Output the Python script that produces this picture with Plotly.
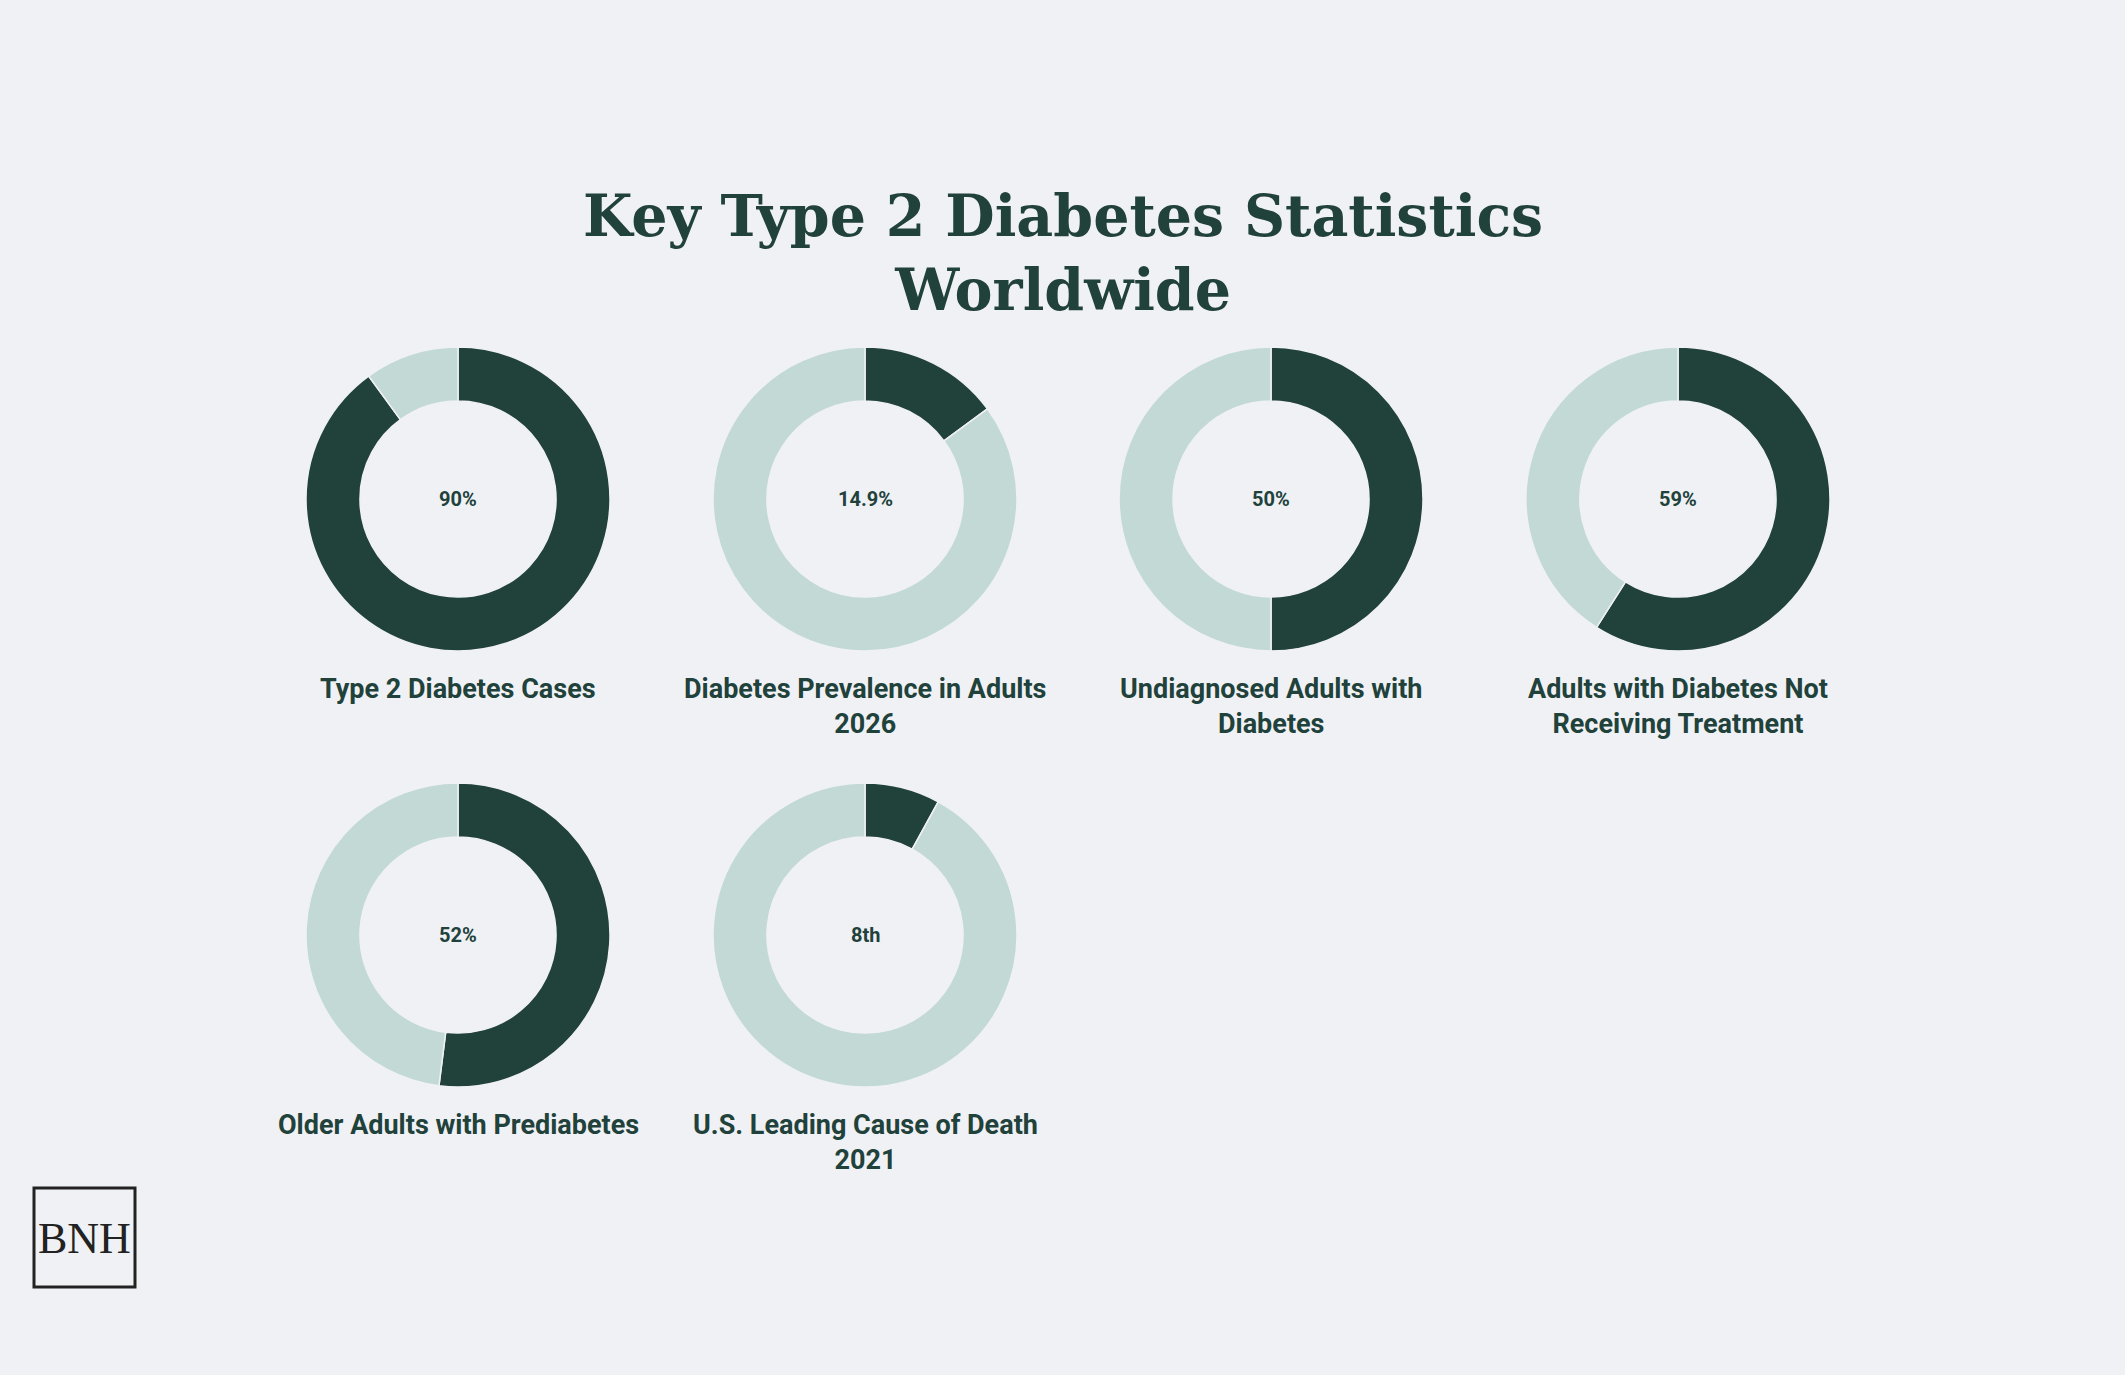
import plotly.graph_objects as go

# ---- data ----
titles = [
    "Type 2 Diabetes Cases",
    "Diabetes Prevalence in Adults<br>2026",
    "Undiagnosed Adults with<br>Diabetes",
    "Adults with Diabetes Not<br>Receiving Treatment",
    "Older Adults with Prediabetes",
    "U.S. Leading Cause of Death<br>2021",
]
values = [90, 14.9, 50, 59, 52, 8]
center_texts = ["90%", "14.9%", "50%", "59%", "52%", "8th"]

W, H = 2125, 1375
BG = "#F0F1F5"
DARK = "#21413B"
LIGHT = "#C2D9D6"

col_x = [458, 865, 1271, 1678]
row_y = [499, 935]
R = 152

fig = go.Figure()
annotations = []
for i, (t, v, ct) in enumerate(zip(titles, values, center_texts)):
    cx = col_x[i % 4]
    cy = row_y[i // 4]
    dom_x = [(cx - R) / W, (cx + R) / W]
    dom_y = [1 - (cy + R) / H, 1 - (cy - R) / H]
    fig.add_trace(go.Pie(
        values=[v, 100 - v],
        labels=["Value", "Rest"],
        hole=0.645,
        sort=False,
        direction="clockwise",
        rotation=0,
        textinfo="none",
        hoverinfo="skip",
        marker=dict(colors=[DARK, LIGHT], line=dict(color=BG, width=1.5)),
        domain=dict(x=dom_x, y=dom_y),
        showlegend=False,
    ))
    annotations.append(dict(
        x=cx / W, y=1 - cy / H, xref="paper", yref="paper",
        text=f"<b>{ct}</b>", showarrow=False,
        font=dict(family="Roboto, Noto Sans, sans-serif", size=20, color=DARK),
        xanchor="center", yanchor="middle",
    ))
    annotations.append(dict(
        x=cx / W, y=1 - (cy + R + 20) / H, xref="paper", yref="paper",
        text=f"<b>{t}</b>", showarrow=False,
        font=dict(family="Roboto, Noto Sans, sans-serif", size=27, color=DARK),
        xanchor="center", yanchor="top", align="center",
    ))

# title
annotations.append(dict(
    x=0.5, y=1 - 180 / H, xref="paper", yref="paper",
    text="<b>Key Type 2 Diabetes Statistics<br>Worldwide</b>", showarrow=False,
    font=dict(family="Roboto Slab, DejaVu Serif, serif", size=57, color=DARK),
    xanchor="center", yanchor="top", align="center",
))
# logo
annotations.append(dict(
    x=84.5 / W, y=1 - 1238 / H, xref="paper", yref="paper",
    text="BNH", showarrow=False,
    font=dict(family="Liberation Serif, DejaVu Serif, serif", size=44, color="#222222"),
    xanchor="center", yanchor="middle",
))

fig.update_layout(
    width=W, height=H,
    margin=dict(l=0, r=0, t=0, b=0),
    paper_bgcolor=BG, plot_bgcolor=BG,
    annotations=annotations,
    shapes=[dict(type="rect", xref="paper", yref="paper",
                 x0=34 / W, x1=135 / W, y0=1 - 1287 / H, y1=1 - 1188 / H,
                 line=dict(color="#222222", width=3))],
)

fig.write_html(
    "out.html",
    config={"displayModeBar": False},
    post_script="document.body.style.margin='0';document.body.style.background='#F0F1F5';document.body.style.overflow='hidden';",
)
